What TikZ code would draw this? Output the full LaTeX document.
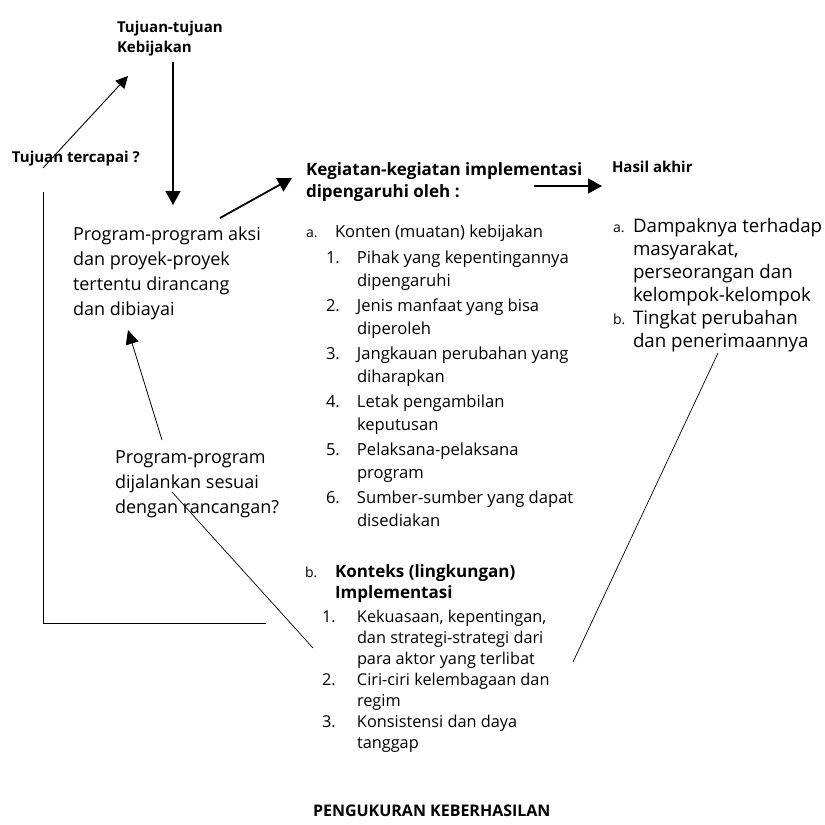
\documentclass[tikz,border=0pt]{standalone}
\usepackage{fontspec}
\setmainfont{Open Sans}
\usetikzlibrary{arrows.meta,positioning}

\newcommand{\fsA}{\fontsize{18}{25}\selectfont}
\newcommand{\fsR}{\fontsize{18.7}{23}\selectfont}
\newcommand{\fsB}{\fontsize{16.6}{23}\selectfont}
\newcommand{\fsC}{\fontsize{16.3}{21}\selectfont}
\newcommand{\fsH}{\fontsize{15}{20}\selectfont\bfseries}
\newcommand{\fsK}{\fontsize{17}{22}\selectfont\bfseries}
\newcommand{\lbl}[1]{{\fontsize{14}{14}\selectfont #1}}

\begin{document}
\begin{tikzpicture}[x=1pt, y=-1pt,
  every node/.style={inner sep=0pt, outer sep=0pt, anchor=base west, align=left},
  big/.style={font=\fsA},
  right col/.style={font=\fsR},
  small/.style={font=\fsB},
  lower/.style={font=\fsC},
  head/.style={font=\fsH},
  arr/.style={-{Triangle[length=14pt,width=15pt]}, line width=1.3pt},
  thin/.style={line width=0.7pt}]

\useasboundingbox (0,0) rectangle (825,825);

% Left column (multi-line nodes sit on their last baseline)
\node (tujuan) at (117,52) [head] {Tujuan-tujuan\\Kebijakan};
\node (tercapai) at (12,162) [head] {Tujuan tercapai ?};
\node (aksi) at (73,315) [big] {Program-program aksi\\dan proyek-proyek\\tertentu dirancang\\dan dibiayai};
\node (jalan) at (115,513) [big] {Program-program\\dijalankan sesuai\\dengan rancangan?};

% Middle column
\node (kegiatan) at (306,197) [font=\fsK] {Kegiatan-kegiatan implementasi\\dipengaruhi oleh :};
\node (konten) at (306,237) [small] {\begin{tabular}[t]{@{}p{29pt}@{}l@{}}
\lbl{a.} & Konten (muatan) kebijakan
\end{tabular}};
\node (kontenlist) at (326,263) [small] {\begin{tabular}[t]{@{}p{31pt}@{}l@{}}
1. & Pihak yang kepentingannya\\ & dipengaruhi\\[2pt]
2. & Jenis manfaat yang bisa\\ & diperoleh\\[2pt]
3. & Jangkauan perubahan yang\\ & diharapkan\\[2pt]
4. & Letak pengambilan\\ & keputusan\\[2pt]
5. & Pelaksana-pelaksana\\ & program\\[2pt]
6. & Sumber-sumber yang dapat\\ & disediakan
\end{tabular}};
\node (konteks) at (305,577) [lower] {\begin{tabular}[t]{@{}p{30pt}@{}l@{}}
\lbl{b.} & \fsK Konteks (lingkungan)\\ & \fsK Implementasi
\end{tabular}};
\node (kontekslist) at (322,622) [lower] {\begin{tabular}[t]{@{}p{35pt}@{}l@{}}
1. & Kekuasaan, kepentingan,\\ & dan strategi-strategi dari\\ & para aktor yang terlibat\\
2. & Ciri-ciri kelembagaan dan\\ & regim\\
3. & Konsistensi dan daya\\ & tanggap
\end{tabular}};
\node (ukur) at (313,816) [font=\fontsize{16}{16}\selectfont\bfseries] {PENGUKURAN KEBERHASILAN};

% Right column
\node (hasil) at (612,172) [head] {Hasil akhir};
\node (hasillist) at (613,232) [right col] {\begin{tabular}[t]{@{}p{20pt}@{}l@{}}
\lbl{a.} & Dampaknya terhadap\\ & masyarakat,\\ & perseorangan dan\\ & kelompok-kelompok\\
\lbl{b.} & Tingkat perubahan\\ & dan penerimaannya
\end{tabular}};

% Free ends of the connectors
\coordinate (fbStart) at (43,168);
\coordinate (fbEnd) at (128,76);
\coordinate (loopTop) at (43,192);
\coordinate (loopCorner) at (43,623);
\coordinate (loopEnd) at (266,623);
\coordinate (aksiOut) at (220,218);
\coordinate (kegIn) at (292,178);
\coordinate (kegOut) at (534,186);
\coordinate (hasilIn) at (602,186);
\coordinate (jalanOut) at (162,440);
\coordinate (aksiIn) at (128,330);
\coordinate (jalanIn) at (172,492);
\coordinate (kontekOut) at (313,648);
\coordinate (kontekTop) at (573,662);
\coordinate (hasilLow) at (718,353);

% Arrows
\draw[arr] (tujuan.south -| 173,0) ++(0,6) -- (173,205);
\draw[arr, line width=0.9pt, -{Triangle[length=12pt,width=12pt]}] (fbStart) -- (fbEnd);
\draw[arr, line width=1.8pt] (aksiOut) -- (kegIn);
\draw[arr] (kegOut) -- (hasilIn);
\draw[arr, line width=0.8pt, -{Triangle[length=14pt,width=13pt]}] (jalanOut) -- (aksiIn);

% Feedback loop
\draw[line width=0.9pt] (loopEnd) -- (loopCorner) -- (loopTop);

% Plain lines
\draw[thin] (kontekOut) -- (jalanIn);
\draw[thin] (kontekTop) -- (hasilLow);

\end{tikzpicture}
\end{document}
